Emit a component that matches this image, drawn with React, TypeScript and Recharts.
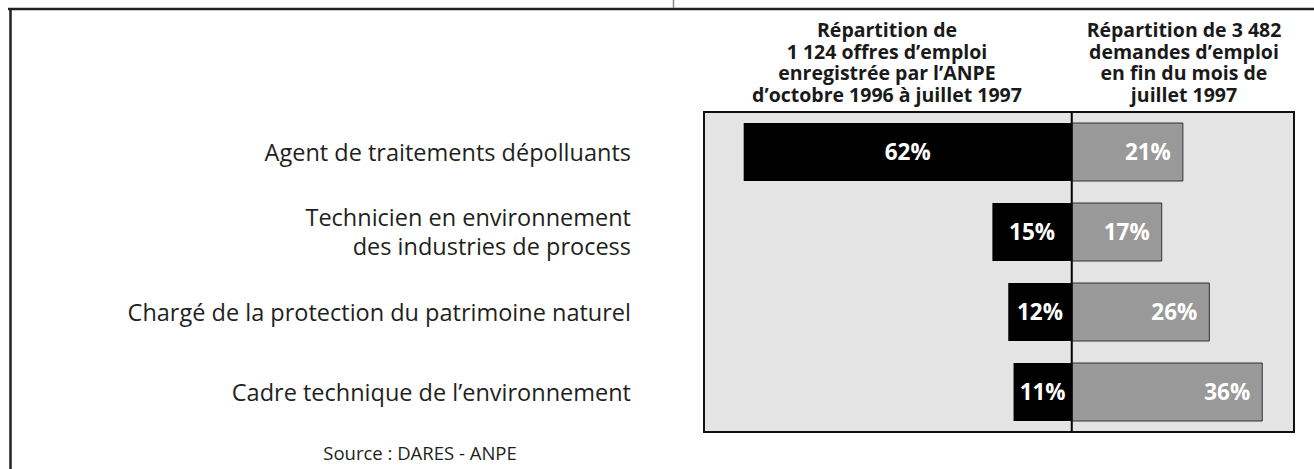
import React from 'react';
import { BarChart, Bar, XAxis, YAxis, ReferenceLine, ReferenceArea, LabelList } from 'recharts';

const categories = [
  'Agent de traitements dépolluants',
  'Technicien en environnement\ndes industries de process',
  'Chargé de la protection du patrimoine naturel',
  'Cadre technique de l’environnement',
];
const offresPct = [62, 15, 12, 11];
const demandesPct = [21, 17, 26, 36];
const headerOffres = ['Répartition de', '1 124 offres d’emploi', 'enregistrée par l’ANPE', 'd’octobre 1996 à juillet 1997'];
const headerDemandes = ['Répartition de 3 482', 'demandes d’emploi', 'en fin du mois de', 'juillet 1997'];
const sourceText = 'Source : DARES - ANPE';

const data = categories.map((name, i) => ({ name, offres: -offresPct[i], demandes: demandesPct[i] }));

const FONT = '"Open Sans", "Noto Sans", sans-serif';

const CategoryTick = (props: any) => {
  const { x, y, payload } = props;
  const lines = String(payload.value).split('\n');
  const lh = 29;
  const startDy = -((lines.length - 1) * lh) / 2 + 8.5;
  return (
    <text x={x} y={y} textAnchor="end" fontFamily={FONT} fontSize={23.5} fill="#231f20">
      {lines.map((l: string, i: number) => (
        <tspan key={i} x={x} dy={i === 0 ? startDy : lh}>{l}</tspan>
      ))}
    </text>
  );
};

const pct = (v: any) => `${Math.abs(Number(v))}%`;

export default function App() {
  return (
    <div style={{ position: 'absolute', left: 0, top: 0, width: 1314, height: 469, background: '#fff' }}>
      <BarChart
        width={1314}
        height={469}
        data={data}
        layout="vertical"
        stackOffset="sign"
        margin={{ top: 112, right: 20, bottom: 37, left: 0 }}
      >
        <XAxis type="number" domain={[-69.5, 42]} allowDataOverflow hide />
        <YAxis
          type="category"
          dataKey="name"
          width={704}
          axisLine={false}
          tickLine={false}
          tickSize={0}
          tickMargin={73}
          tick={<CategoryTick />}
          interval={0}
        />
        <ReferenceArea x1={-69.5} x2={42} fill="#e4e4e4" fillOpacity={1} stroke="#111" strokeWidth={2} ifOverflow="extendDomain" />
        <Bar dataKey="offres" stackId="a" fill="#000" barSize={58} isAnimationActive={false}>
          <LabelList dataKey="offres" position="center" formatter={pct} fill="#fff" fontFamily={FONT} fontSize={22.5} fontWeight={700} />
        </Bar>
        <Bar dataKey="demandes" stackId="a" fill="#999" stroke="#333" strokeWidth={1} barSize={58} isAnimationActive={false}>
          <LabelList dataKey="demandes" position="insideRight" offset={12} formatter={pct} fill="#fff" fontFamily={FONT} fontSize={22.5} fontWeight={700} />
        </Bar>
        <ReferenceLine x={0} stroke="#000" strokeWidth={2} />
      </BarChart>
      <svg width={1314} height={469} style={{ position: 'absolute', left: 0, top: 0, pointerEvents: 'none' }}>
        <line x1={8} y1={9} x2={1314} y2={9} stroke="#222" strokeWidth={2.5} />
        <line x1={10.5} y1={8} x2={10.5} y2={469} stroke="#222" strokeWidth={2.5} />
        <line x1={673.5} y1={0} x2={673.5} y2={8} stroke="#888" strokeWidth={1.5} />
        <text textAnchor="middle" fontFamily={FONT} fontSize={19.5} fontWeight={700} fill="#1a1a1a">
          {headerOffres.map((l, i) => (
            <tspan key={i} x={887} y={37 + i * 21.5}>{l}</tspan>
          ))}
        </text>
        <text textAnchor="middle" fontFamily={FONT} fontSize={19.5} fontWeight={700} fill="#1a1a1a">
          {headerDemandes.map((l, i) => (
            <tspan key={i} x={1184} y={37 + i * 21.5}>{l}</tspan>
          ))}
        </text>
        <text x={420} y={460} textAnchor="middle" fontFamily={FONT} fontSize={18.5} fill="#231f20">{sourceText}</text>
      </svg>
    </div>
  );
}
